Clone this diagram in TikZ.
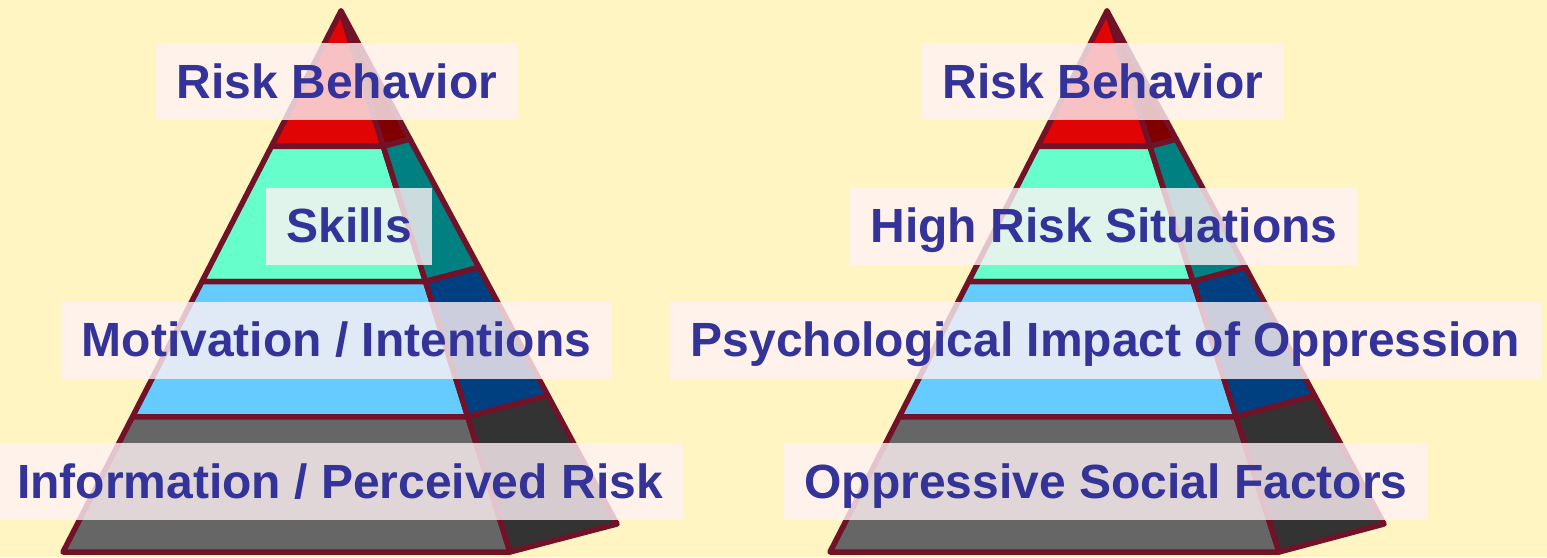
\documentclass[tikz,border=0pt]{standalone}
\usepackage{fontspec}
\setmainfont{Liberation Sans}
\usetikzlibrary{calc}
\definecolor{bgyellow}{RGB}{255,245,194}
\definecolor{rimred}{RGB}{114,18,40}
\definecolor{textblue}{RGB}{51,51,153}
\definecolor{veil}{RGB}{255,242,245}
\definecolor{topred}{RGB}{224,4,4}
\definecolor{topside}{RGB}{128,0,0}
\definecolor{mint}{RGB}{102,255,204}
\definecolor{mintside}{RGB}{0,128,128}
\definecolor{skyblue}{RGB}{102,204,255}
\definecolor{skyside}{RGB}{0,64,128}
\definecolor{basegray}{RGB}{102,102,102}
\definecolor{baseside}{RGB}{51,51,51}

% one slab of a pyramid: pyramid, top fraction, bottom fraction, front colour, side colour
\newcommand{\slab}[5]{%
  \filldraw[rim, fill=#4] ($(#1top)!#2!(#1bl)$) -- ($(#1top)!#2!(#1br)$) -- ($(#1top)!#3!(#1br)$) -- ($(#1top)!#3!(#1bl)$) -- cycle;
  \filldraw[rim, fill=#5] ($(#1top)!#2!(#1br)$) -- ($(#1top)!#2!(#1bb)$) -- ($(#1top)!#3!(#1bb)$) -- ($(#1top)!#3!(#1br)$) -- cycle;
}

\begin{document}
\begin{tikzpicture}[x=1pt, y=-1pt]
    \tikzstyle{rim}      = [draw = rimred, line width = 5.5pt, line join = round]
    \tikzstyle{levelbox} = [rectangle, fill = veil, fill opacity = 0.8, text opacity = 1, text = textblue, font = \fontsize{48}{56}\selectfont\bfseries, inner xsep = 20.5pt, inner ysep = 20pt, text height = 35pt, text depth = 2pt]

    % Background
    \useasboundingbox (0,0) rectangle (1547,557);
    \fill[bgyellow] (0,0) rectangle (1547,557);

    % Corners of the two pyramids
    \coordinate (Ltop) at (341,11);
    \coordinate (Lbl)  at (63,552);
    \coordinate (Lbr)  at (510,552);
    \coordinate (Lbb)  at (617,524);
    \coordinate (Rtop) at (1107,11);
    \coordinate (Rbl)  at (830,552);
    \coordinate (Rbr)  at (1279,552);
    \coordinate (Rbb)  at (1384,524);

    % Left pyramid
    \slab{L}{0}{0.25}{topred}{topside}
    \slab{L}{0.25}{0.5}{mint}{mintside}
    \slab{L}{0.5}{0.75}{skyblue}{skyside}
    \slab{L}{0.75}{1}{basegray}{baseside}

    % Right pyramid
    \slab{R}{0}{0.25}{topred}{topside}
    \slab{R}{0.25}{0.5}{mint}{mintside}
    \slab{R}{0.5}{0.75}{skyblue}{skyside}
    \slab{R}{0.75}{1}{basegray}{baseside}

    % Labels
    \node[levelbox] (riskL)   at (337,81.5)  {Risk Behavior};
    \node[levelbox] (skills)  at (349,226)   {Skills};
    \node[levelbox] (motive)  at (336.5,340) {Motivation / Intentions};
    \node[levelbox] (info)    at (340,481.5) {Information / Perceived Risk};

    \node[levelbox] (riskR)   at (1103,81.5)  {Risk Behavior};
    \node[levelbox] (highrisk) at (1104,226)  {High Risk Situations};
    \node[levelbox] (psych)   at (1105.5,340) {Psychological Impact of Oppression};
    \node[levelbox] (oppress) at (1106,481.5) {Oppressive Social Factors};
\end{tikzpicture}
\end{document}
